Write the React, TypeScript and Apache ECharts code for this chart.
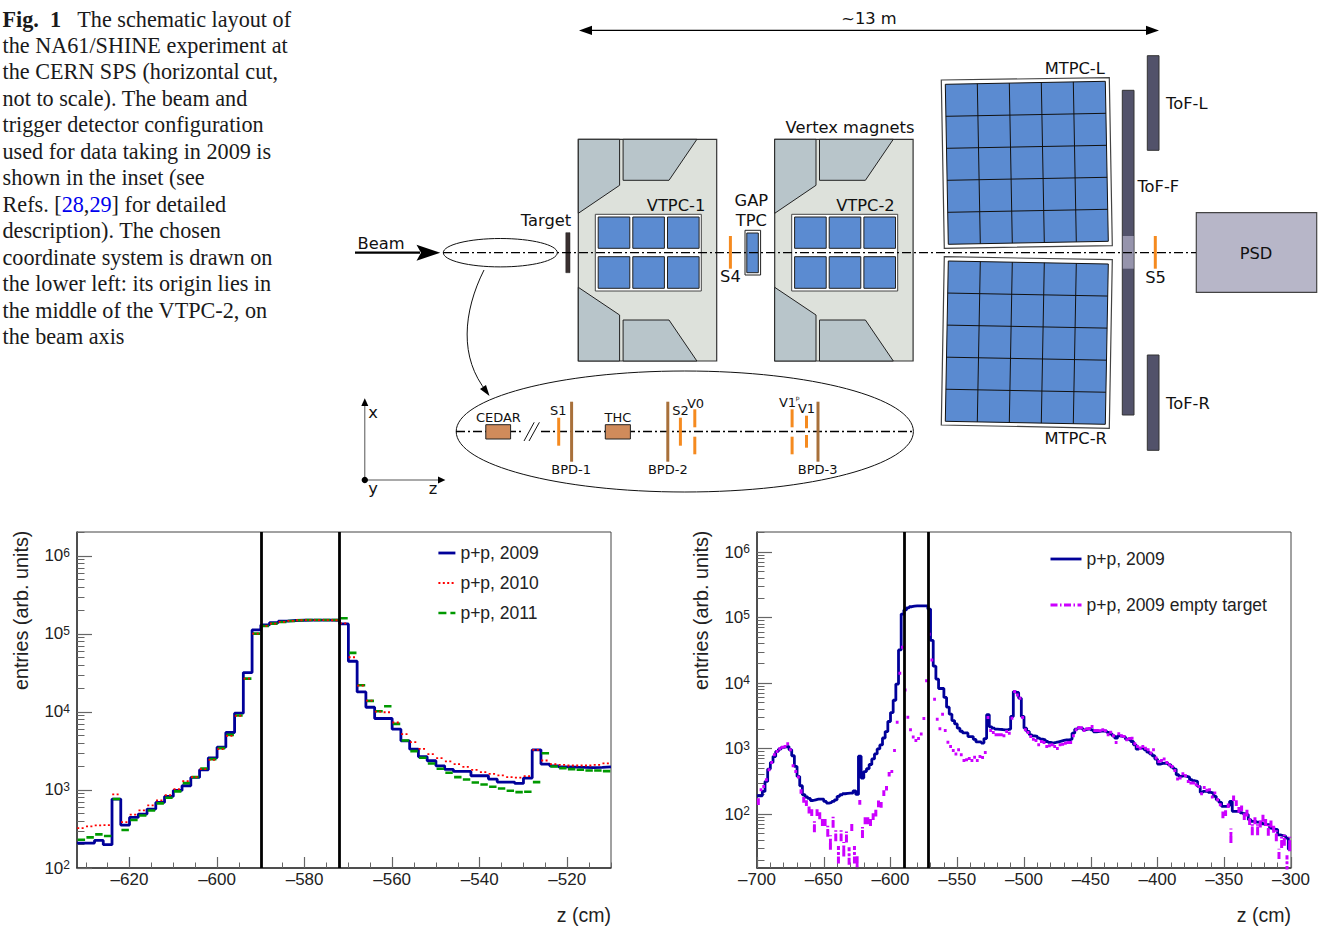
import React, { useEffect, useRef } from "react";
import * as echarts from "echarts";

const SANS = "Liberation Sans";
const DIA = "DejaVu Sans";
const SERIF = "Liberation Serif";
const BIN = 2;
const LEFT_START = -632;
const RIGHT_START = -700;
const CUT_LINES = [-590, -572];

const pp2009: number[] = [
  209, 209, 226, 199, 765, 355, 445, 491, 570, 693, 827, 986, 1133, 1448, 1816, 2586, 3541, 5457, 9650, 32000, 112700,
  130500, 140000, 146000, 149000, 150000, 151000, 151000, 151000, 150000,
  134400, 44700, 18100, 11500, 8250, 8250, 6020, 4270, 3340, 2670, 2370, 2044, 1834, 1730, 1730, 1522, 1522, 1380, 1262, 1262, 1213, 1420, 3275, 2147, 2044, 1983, 1960, 1950, 1930, 1950, 1983,
];
const pp2010: number[] = [
  325, 342, 352, 355, 878, 388, 482, 547, 634, 735, 861, 1028, 1300, 1462, 1853, 2438, 3340, 4946, 8920, 26800, 101000,
  126800, 135800, 142600, 147000, 150000, 151000, 151000, 151000, 150000,
  137000, 50300, 21800, 14000, 10100, 9930, 7330, 5200, 4100, 3370, 2880, 2560, 2323, 2147, 1983, 1816, 1694, 1614, 1536, 1462, 1440, 1507, 3275, 2390, 2147, 2104, 2060, 2060, 2060, 2104, 2188,
];
const pp2011: number[] = [
  230, 247, 270, 257, 765, 307, 412, 472, 547, 673, 796, 959, 1225, 1462, 1888, 2489, 3438, 5094, 9010, 26800, 101000,
  126800, 135800, 142600, 147000, 150000, 151000, 151000, 151000, 151000,
  158900, 57200, 22000, 13900, 10240, 11860, 7050, 4315, 3150, 2586, 2188, 1870, 1663, 1462, 1365, 1250, 1178, 1100, 1047, 977, 940, 949, 1262, 2965, 2004, 1905, 1853, 1816, 1780, 1780, 1746,
];
const wideBefore: number[] = [
  190, 190, 221, 315, 485, 613, 755, 902, 979, 1040, 1063, 1075, 957, 775, 533, 375, 270, 197, 182, 173, 161, 165, 169, 169, 169, 156, 147, 150, 156, 165, 186, 197, 204, 207,
];
const wideAfter: number[] = [
  3083, 7413, 7160, 5866, 3083, 2046, 1820, 1620, 1563, 1528,
  1441, 1391, 1358, 1281, 1237, 1208, 1237, 1267, 1297, 1327,
  1358, 1358, 1391, 1718, 1977, 2046, 2046, 1932, 1977, 1999,
  1932, 1799, 1820, 1841, 1862, 1841, 1758, 1678, 1563, 1441,
  1563, 1528, 1493, 1391, 1358, 1281, 1140, 979, 1014, 1014,
  957, 881, 832, 775, 689, 578, 592, 598, 592, 565,
  520, 485, 398, 375, 384, 375, 366, 334, 322, 315,
  264, 214, 222, 222, 214, 209, 186, 165, 151, 131,
  131, 134, 156, 110, 110, 110, 104, 101, 98, 82,
  77, 77, 75, 75, 71, 69, 69, 61, 59, 58,
  48, 47, 46, 43, 29,
];
const emptyTarget: number[] = [
  156, 235, 264, 334, 474, 613, 802, 902, 991, 1050, 1075, 1180, 957, 545, 447, 366, 222, 165, 147, 116,
  106, 66, 106, 98, 77, 77, 56, 38, 77, 48, 25, 48, 30, 46, 24, 65, 25, 17, 151, 54,
  82, 82, 77, 92, 104, 144, 139, 209, 249, 407, 447, 934, 2525, 14100, 35200, 7850, 3010, 1932, 1493, 1327,
  1424, 1660, 2873, 10790, 55400, 22500, 5660, 2807, 1999, 3345, 1885, 1252, 1075, 934, 822, 957, 802, 658, 673, 706,
  658, 739, 658, 757, 731, 871, 2978, 1885, 1758, 1620, 1620,
  1620, 1563, 1820, 1718, 2905, 7413, 6590, 5866, 2978, 1932, 1758, 1528, 1391, 1327, 1140, 1281, 1237, 1075, 1101, 1140,
  1075, 1002, 1140, 1167, 1208, 1237, 1237, 1563, 1932, 2094, 2070, 1885, 1999, 2023, 2170, 1885, 1885, 1862, 1932, 1862,
  1620, 1778, 1563, 1237, 1678, 1563, 1528, 1358, 1424, 1441, 1180, 1075, 1014, 1075, 1014, 957, 851, 957, 714, 635,
  658, 689, 613, 565, 533, 463, 342, 354, 412, 384, 315, 297, 297, 280, 264, 204, 255, 230, 235, 182,
  209, 165, 139, 98, 104, 134, 48, 175, 147, 116, 123, 92, 104, 77, 61, 82, 61, 73, 87, 77,
  58, 73, 61, 48, 25, 38, 41, 18, 36,
];
const emptySpread: [number, number][] = [
  [-700, 0.12], [-668, 0.08], [-666, 0.1], [-664, 0.1], [-662, 0.12], [-660, 0.12], [-658, 0.2], [-656, 0.12], [-654, 0.15], [-652, 0.15],
  [-650, 0.15], [-648, 0.2], [-646, 0.25], [-644, 0.2], [-642, 0.2], [-640, 0.3], [-638, 0.2], [-636, 0.25], [-634, 0.2], [-632, 0.3],
  [-630, 0.15], [-628, 0.3], [-626, 0.35], [-624, 0.08], [-622, 0.2], [-620, 0.15], [-618, 0.15], [-616, 0.15], [-614, 0.12], [-612, 0.12],
  [-610, 0.12], [-608, 0.1], [-606, 0.1], [-604, 0.08], [-602, 0.08],
  [-352, 0.12], [-350, 0.1], [-348, 0.08], [-346, 0.25], [-344, 0.1], [-342, 0.1], [-340, 0.1], [-338, 0.1], [-336, 0.12], [-334, 0.12],
  [-332, 0.12], [-330, 0.22], [-328, 0.15], [-326, 0.22], [-324, 0.15], [-322, 0.12], [-320, 0.15], [-318, 0.2], [-316, 0.15], [-314, 0.15],
  [-312, 0.2], [-310, 0.18], [-308, 0.2], [-306, 0.2], [-304, 0.3], [-302, 0.25],
];

const leftMajorX = [-620, -600, -580, -560, -540, -520];
const leftMinorX = [-630, -625, -615, -610, -605, -595, -590, -585, -575, -570, -565, -555, -550, -545, -535, -530, -525, -515, -510];
const rightMinorX = [-690, -680, -670, -660, -640, -630, -620, -610, -590, -580, -570, -560, -540, -530, -520, -510, -490, -480, -470, -460, -440, -430, -420, -410, -390, -380, -370, -360, -340, -330, -320, -310];
const majorY = [100, 1000, 10000, 100000, 1000000];
const minorY = [20, 30, 40, 50, 60, 70, 80, 90, 200, 300, 400, 500, 600, 700, 800, 900, 2000, 3000, 4000, 5000, 6000, 7000, 8000, 9000, 20000, 30000, 40000, 50000, 60000, 70000, 80000, 90000, 200000, 300000, 400000, 500000, 600000, 700000, 800000, 900000, 2000000];

const captionLines: string[] = [
  "{b|Fig.  1}   The schematic layout of",
  "the NA61/SHINE experiment at",
  "the CERN SPS (horizontal cut,",
  "not to scale). The beam and",
  "trigger detector configuration",
  "used for data taking in 2009 is",
  "shown in the inset (see",
  "Refs. [{l|28},{l|29}] for detailed",
  "description). The chosen",
  "coordinate system is drawn on",
  "the lower left: its origin lies in",
  "the middle of the VTPC-2, on",
  "the beam axis",
];

const BLUE = "#000099", RED = "#ff0000", GREEN = "#009900", MAG = "#cc00ff";
const PANEL = "#5b8bd1", ORANGE = "#f58a1f", BROWN = "#a8703a", POLE = "#b8c5ca", YOKE = "#dde1db", TOF = "#52526a";

function stepLine(start: number, values: number[]) {
  const pts: number[][] = values.map((v, i) => [start + i * BIN, v]);
  pts.push([start + values.length * BIN, values[values.length - 1]]);
  return pts;
}
function pieces(start: number, values: number[], half: number) {
  const pts: (number | null)[][] = [];
  values.forEach((v, i) => {
    const c = start + (i + 0.5) * BIN;
    pts.push([c - half, v], [c + half, v], [c + half, null]);
  });
  return pts;
}
function errorPieces(start: number, values: number[], spread: [number, number][], half: number) {
  const pts: (number | null)[][] = pieces(start, values, half);
  spread.forEach(([edge, s]) => {
    const i = (edge - start) / BIN;
    const c = edge + BIN / 2;
    pts.push([c, values[i] * (1 - s)], [c, values[i] * (1 + s)], [c, null]);
  });
  return pts;
}

// ---- schematic helpers ----
const line = (x1: number, y1: number, x2: number, y2: number, stroke = "#000", lineWidth = 1, lineDash?: number[]) => ({
  type: "line", silent: true, shape: { x1, y1, x2, y2 }, style: { stroke, lineWidth, lineDash },
});
const rect = (x1: number, y1: number, x2: number, y2: number, fill: string, stroke = "#222", lineWidth = 1) => ({
  type: "rect", silent: true, shape: { x: x1, y: y1, width: x2 - x1, height: y2 - y1 }, style: { fill, stroke, lineWidth },
});
const poly = (points: number[][], fill: string, stroke = "#222", lineWidth = 1) => ({
  type: "polygon", silent: true, shape: { points }, style: { fill, stroke, lineWidth },
});
const label = (x: number, y: number, text: string, fontSize = 16.3, align = "center") => ({
  type: "text", silent: true, x, y: y + 0.8, style: { text, fontSize, fontFamily: DIA, fill: "#111", align, verticalAlign: "middle" },
});

function magnet(x0: number) {
  const Y0 = 139.3, Y1 = 361;
  return [
    rect(x0, Y0, x0 + 138.4, Y1, YOKE, "#333", 1.2),
    poly([[x0, Y0], [x0 + 41.3, Y0], [x0 + 41.3, 185.3], [x0, 213.3]], POLE),
    poly([[x0 + 44.8, Y0], [x0 + 118.6, Y0], [x0 + 90.7, 180.3], [x0 + 44.8, 180.3]], POLE),
    poly([[x0, 287.3], [x0 + 41.3, 315], [x0 + 41.3, Y1], [x0, Y1]], POLE),
    poly([[x0 + 44.8, 320], [x0 + 90.7, 320], [x0 + 118.6, Y1], [x0 + 44.8, Y1]], POLE),
    rect(x0 + 17, 214.3, x0 + 123, 291, "#fff", "#444", 1),
    ...[19.9, 54.5, 89.2].flatMap((dx) => [
      rect(x0 + dx, 217, x0 + dx + 31.6, 248.3, PANEL),
      rect(x0 + dx, 256.7, x0 + dx + 31.6, 288.3, PANEL),
    ]),
  ];
}
function mtpc(outer: number[][], inner: number[][]) {
  const [a, b, c, d] = inner;
  const at = (u: number, v: number) => [
    a[0] * (1 - u) * (1 - v) + b[0] * u * (1 - v) + c[0] * u * v + d[0] * (1 - u) * v,
    a[1] * (1 - u) * (1 - v) + b[1] * u * (1 - v) + c[1] * u * v + d[1] * (1 - u) * v,
  ];
  const els: any[] = [poly(outer, "#fff", "#444", 1.2), poly(inner, PANEL, "#111", 1)];
  for (let i = 1; i < 5; i++) {
    const p = at(i / 5, 0), q = at(i / 5, 1), r = at(0, i / 5), s = at(1, i / 5);
    els.push(line(p[0], p[1], q[0], q[1], "#111", 1), line(r[0], r[1], s[0], s[1], "#111", 1));
  }
  return els;
}
const DASHDOT = [9, 3, 2, 3];

function schematic(): any[] {
  const BY = 252.7, IY = 431.5;
  return [
    // dimension arrow
    line(585, 30.4, 1152, 30.4, "#000", 1.2),
    poly([[579, 30.4], [592, 25.8], [592, 35]], "#000", "none", 0),
    poly([[1159, 30.4], [1146, 25.8], [1146, 35]], "#000", "none", 0),
    label(869, 18, "~13 m"),
    // magnets
    ...magnet(578.3),
    ...magnet(774.7),
    label(850, 127, "Vertex magnets"),
    label(676, 205, "VTPC-1"),
    label(865.4, 205, "VTPC-2"),
    label(751.4, 200, "GAP"),
    label(751.4, 220, "TPC"),
    rect(745, 230.3, 760.6, 275, "#fff", "#222", 1),
    rect(746.8, 233, 758.3, 272.7, PANEL, "#222", 1),
    // MTPC
    ...mtpc([[941.3, 80], [1109.3, 77.7], [1112.3, 245.7], [944.3, 248.3]], [[945.3, 84.3], [1105.3, 81.3], [1108.3, 241.3], [948.3, 244.3]]),
    ...mtpc([[944.3, 256.7], [1112.3, 259.7], [1109.3, 428.3], [941.3, 425]], [[948.3, 261], [1108.3, 264], [1105.3, 424.3], [945.3, 421.3]]),
    label(1074.7, 68, "MTPC-L"),
    label(1075.7, 438, "MTPC-R"),
    // ToF
    rect(1122.3, 90.3, 1134, 415, TOF, "#333", 1),
    rect(1122.8, 236, 1133.7, 268.7, "#9694ac", "none", 0),
    rect(1147.3, 55.7, 1159, 150.3, TOF, "#333", 1),
    rect(1147.3, 355, 1159, 450.3, TOF, "#333", 1),
    label(1158.3, 186, "ToF-F"),
    label(1166, 103, "ToF-L", 16.3, "left"),
    label(1166, 403, "ToF-R", 16.3, "left"),
    // PSD
    rect(1196.3, 212.7, 1316.7, 292.3, "#b7b6c8", "#444", 1.2),
    label(1256, 253, "PSD"),
    // target + beam
    rect(565.8, 232.7, 570, 272.7, "#3a3030", "#222", 0.5),
    label(546, 220, "Target"),
    label(381, 243, "Beam"),
    line(443, BY, 1196, BY, "#000", 1.3, DASHDOT),
    line(355, BY, 420, BY, "#000", 2.2),
    poly([[440.3, BY], [416.5, BY - 8], [421, BY], [416.5, BY + 8]], "#000", "none", 0),
    { type: "ellipse", silent: true, shape: { cx: 500.3, cy: BY, rx: 57, ry: 14.2 }, style: { fill: "none", stroke: "#111", lineWidth: 1 } },
    line(730.4, 236, 730.4, 268.7, ORANGE, 3),
    label(730.4, 276, "S4"),
    line(1155.3, 236, 1155.3, 268.7, ORANGE, 3),
    label(1155.6, 277, "S5"),
    // connector
    { type: "bezierCurve", silent: true, shape: { x1: 484, y1: 270, cpx1: 463, cpy1: 312, cpx2: 459, cpy2: 358, x2: 487, y2: 392 }, style: { fill: "none", stroke: "#111", lineWidth: 1 } },
    poly([[489.5, 396], [480, 389], [486, 385]], "#000", "none", 0),
    // inset
    { type: "ellipse", silent: true, shape: { cx: 684.8, cy: IY, rx: 228.6, ry: 60.5 }, style: { fill: "none", stroke: "#111", lineWidth: 1 } },
    line(456, IY, 523, IY, "#000", 1.3, DASHDOT),
    line(541, IY, 913, IY, "#000", 1.3, DASHDOT),
    line(524, 441, 534.2, 422.3, "#111", 1),
    line(529, 441, 539.4, 422.3, "#111", 1),
    rect(485.8, 424.7, 510.6, 439, "#d08b5b"),
    rect(605.3, 424.7, 630.4, 439, "#d08b5b"),
    label(498.4, 417, "CEDAR", 13),
    label(617.9, 417, "THC", 13),
    line(558.7, 417.7, 558.7, 445.7, ORANGE, 3),
    line(571.6, 401.7, 571.6, 461.7, BROWN, 3),
    line(667.8, 401.7, 667.8, 461.7, BROWN, 3),
    line(680.4, 417.7, 680.4, 445.7, ORANGE, 3),
    line(694.8, 409.3, 694.8, 427.3, ORANGE, 3),
    line(694.8, 436.7, 694.8, 454.3, ORANGE, 3),
    line(792.1, 409.3, 792.1, 427.3, ORANGE, 3),
    line(792.1, 436.7, 792.1, 454.3, ORANGE, 3),
    line(806.5, 415.7, 806.5, 428.3, ORANGE, 3),
    line(806.5, 435, 806.5, 447.7, ORANGE, 3),
    line(818, 401.7, 818, 461.7, BROWN, 3),
    label(558.3, 410, "S1", 13),
    label(571.2, 469, "BPD-1", 13),
    label(667.8, 469, "BPD-2", 13),
    label(817.6, 469, "BPD-3", 13),
    label(680.4, 410, "S2", 13),
    label(695.5, 403, "V0", 13),
    label(787.5, 402, "V1", 13),
    label(797.7, 397, "p", 6),
    label(806.5, 408, "V1", 13),
    // coordinate system
    line(364.8, 480, 364.8, 402, "#555", 1),
    line(364.8, 480, 440, 480, "#555", 1),
    poly([[364.8, 398.3], [361.3, 406], [368.3, 406]], "#000", "none", 0),
    poly([[445.4, 480], [438, 476.5], [438, 483.5]], "#000", "none", 0),
    { type: "circle", silent: true, shape: { cx: 364.8, cy: 480, r: 3.2 }, style: { fill: "#000" } },
    label(373, 412, "x"),
    label(373, 488, "y"),
    label(433, 488, "z"),
  ];
}
function caption(): any[] {
  return captionLines.map((text, i) => ({
    type: "text",
    silent: true,
    x: 2.5,
    y: 19 + i * 26.48,
    style: {
      text,
      fontFamily: SERIF,
      fontSize: 22.2,
      fill: "#1a1a1a",
      verticalAlign: "middle",
      rich: {
        b: { fontFamily: SERIF, fontSize: 22.2, fontWeight: "bold", fill: "#1a1a1a" },
        l: { fontFamily: SERIF, fontSize: 22.2, fill: "#0000ee" },
      },
    },
  }));
}

// ---- axes ----
const expLabel = (v: number) => `{n|10}{s|${Math.round(v < 10 ? v : Math.log10(v))}}`;
const rich = {
  n: { fontFamily: SANS, fontSize: 17, color: "#222" },
  s: { fontFamily: SANS, fontSize: 12, color: "#222", verticalAlign: "top", padding: [0, 0, 6, 0] },
};
const xLabel = (v: number) => String(v).replace("-", "\u2013");

function xAxes(gridIndex: number, min: number, max: number, major: number[], minor: number[]) {
  return [
    {
      type: "value", gridIndex, min, max, position: "bottom", splitLine: { show: false },
      name: "z (cm)", nameLocation: "end", nameGap: 0, nameMoveOverlap: false,
      nameTextStyle: { fontFamily: SANS, fontSize: 19.5, color: "#222", align: "right", verticalAlign: "top", padding: [37, 0, 0, 0] },
      axisLine: { show: true, onZero: false, lineStyle: { color: "#333", width: 1.5 } },
      axisTick: { show: true, inside: true, length: 11, customValues: major, lineStyle: { color: "#666", width: 1.2 } },
      axisLabel: { customValues: major, margin: 3, formatter: xLabel, hideOverlap: false, showMinLabel: true, showMaxLabel: true, fontFamily: SANS, fontSize: 17, color: "#222" },
    },
    {
      type: "value", gridIndex, min, max, position: "bottom", splitLine: { show: false },
      axisLine: { show: false, onZero: false },
      axisTick: { show: true, inside: true, length: 5.5, customValues: minor, lineStyle: { color: "#666", width: 1 } },
      axisLabel: { show: false },
    },
  ];
}
function yAxes(gridIndex: number, min: number, max: number, major: number[], minor: number[]) {
  return [
    {
      type: "log", logBase: 10, gridIndex, min, max, position: "left", splitLine: { show: false }, minorSplitLine: { show: false },
      name: "entries (arb. units)", nameLocation: "end", nameRotate: 90, nameGap: -158, nameMoveOverlap: false,
      nameTextStyle: { fontFamily: SANS, fontSize: 19.8, color: "#222", align: "left", verticalAlign: "bottom", padding: [0, 0, 46, 0] },
      axisLine: { show: true, lineStyle: { color: "#333", width: 1.5 } },
      axisTick: { show: true, inside: true, length: 15, customValues: major, lineStyle: { color: "#666", width: 1.2 } },
      axisLabel: { customValues: major, margin: 7, formatter: expLabel, rich, hideOverlap: false, showMinLabel: true, showMaxLabel: true, fontFamily: SANS, fontSize: 17, color: "#222" },
    },
    {
      type: "log", logBase: 10, gridIndex, min, max, position: "left", splitLine: { show: false },
      axisLine: { show: false },
      axisTick: { show: true, inside: true, length: 7.5, customValues: minor, lineStyle: { color: "#666", width: 1 } },
      axisLabel: { show: false },
    },
  ];
}

export default function App() {
  const ref = useRef<HTMLDivElement>(null);
  useEffect(() => {
    const chart = echarts.init(ref.current!, undefined, { renderer: "svg" });
    const cuts = {
      silent: true, symbol: "none", animation: false, label: { show: false },
      lineStyle: { color: "#000", width: 2.8, type: "solid" },
      data: CUT_LINES.map((xAxis) => ({ xAxis })),
    };
    const base = { type: "line", symbol: "none", showSymbol: false, connectNulls: false, silent: true, animation: false };
    chart.setOption({
      animation: false,
      backgroundColor: "#fff",
      grid: [
        { left: 77, top: 532, width: 534, height: 336, show: true, borderColor: "#444", borderWidth: 1, backgroundColor: "transparent" },
        { left: 757, top: 532, width: 534, height: 336, show: true, borderColor: "#444", borderWidth: 1, backgroundColor: "transparent" },
      ],
      legend: [
        {
          left: 437, top: 544, padding: 0, orient: "vertical", itemWidth: 17, itemHeight: 14, itemGap: 12, selectedMode: false,
          itemStyle: { opacity: 0 }, lineStyle: { width: "inherit" },
          textStyle: { fontFamily: SANS, fontSize: 17.5, color: "#222" },
          data: ["p+p, 2009", "p+p, 2010", "p+p, 2011"],
        },
        {
          left: 1049, top: 550, padding: 0, orient: "vertical", itemWidth: 31, itemHeight: 14, itemGap: 28, selectedMode: false,
          itemStyle: { opacity: 0 }, lineStyle: { width: "inherit" },
          textStyle: { fontFamily: SANS, fontSize: 17.5, color: "#222" },
          data: ["p+p, 2009", "p+p, 2009 empty target"],
        },
      ],
      xAxis: [
        ...xAxes(0, LEFT_START, -510, leftMajorX, leftMinorX),
        ...xAxes(1, RIGHT_START, -300, [-700, -650, -600, -550, -500, -450, -400, -350, -300], rightMinorX),
      ],
      yAxis: [
        ...yAxes(0, 100, 2030000, majorY, minorY),
        ...yAxes(1, 15, 2020000, majorY, minorY),
      ],
      series: [
        { ...base, name: "p+p, 2009", xAxisIndex: 0, yAxisIndex: 0, step: "end", data: stepLine(LEFT_START, pp2009), lineStyle: { color: BLUE, width: 2.8 }, itemStyle: { color: BLUE }, z: 2, markLine: cuts },
        { ...base, name: "p+p, 2011", xAxisIndex: 0, yAxisIndex: 0, data: pieces(LEFT_START, pp2011, 0.85), lineStyle: { color: GREEN, width: 2.6, type: [8, 4] }, itemStyle: { color: GREEN }, z: 3 },
        { ...base, name: "p+p, 2010", xAxisIndex: 0, yAxisIndex: 0, data: pieces(LEFT_START, pp2010, 0.95), lineStyle: { color: RED, width: 1.8, type: [2, 2.4] }, itemStyle: { color: RED }, z: 4 },
        { ...base, name: "p+p, 2009", xAxisIndex: 2, yAxisIndex: 2, step: "end", data: stepLine(RIGHT_START, [...wideBefore, ...pp2009, ...wideAfter]), lineStyle: { color: BLUE, width: 2.8 }, itemStyle: { color: BLUE }, z: 2, markLine: cuts },
        { ...base, name: "p+p, 2009 empty target", xAxisIndex: 2, yAxisIndex: 2, data: errorPieces(RIGHT_START, emptyTarget, emptySpread, 1.05), lineStyle: { color: MAG, width: 3, type: [7, 2.5, 1.5, 2.5] }, itemStyle: { color: MAG }, z: 3 },
      ],
      graphic: { elements: [...caption(), ...schematic()] },
    });
    return () => chart.dispose();
  }, []);
  return <div ref={ref} style={{ position: "absolute", left: 0, top: 0, width: 1320, height: 927, background: "#fff" }} />;
}
